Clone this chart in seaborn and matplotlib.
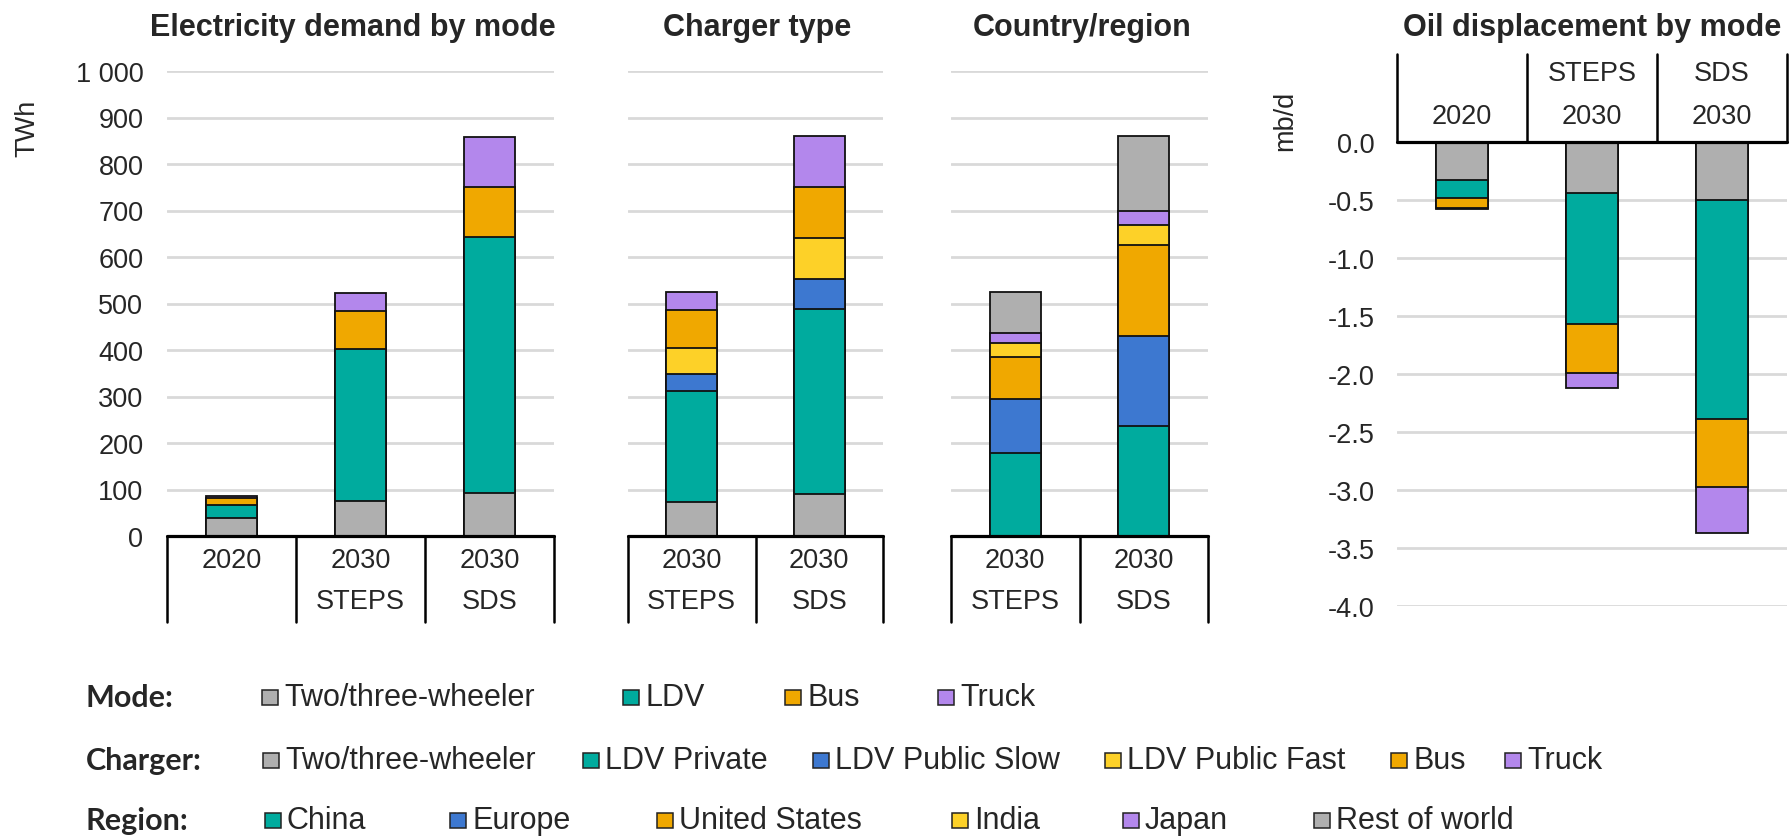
import matplotlib
matplotlib.use('Agg')
import matplotlib.pyplot as plt
from matplotlib.patches import Rectangle
import numpy as np
import seaborn as sns

# ---- data ----
elec_cats = ['2020', '2030 STEPS', '2030 SDS']
mode_labels = ['Two/three-wheeler', 'LDV', 'Bus', 'Truck']
elec_two_three = [39, 75, 92]
elec_ldv = [27, 327, 550]
elec_bus = [15, 81, 108]
elec_truck = [4, 40, 109]

charger_cats = ['2030 STEPS', '2030 SDS']
charger_labels = ['Two/three-wheeler', 'LDV Private', 'LDV Public Slow', 'LDV Public Fast', 'Bus', 'Truck']
chg_two_three = [73, 91]
chg_ldv_private = [238, 397]
chg_ldv_slow = [38, 64]
chg_ldv_fast = [56, 88]
chg_bus = [81, 111]
chg_truck = [39, 110]

region_cats = ['2030 STEPS', '2030 SDS']
region_labels = ['China', 'Europe', 'United States', 'India', 'Japan', 'Rest of world']
reg_china = [179, 236]
reg_europe = [115, 195]
reg_us = [92, 195]
reg_india = [30, 42]
reg_japan = [21, 32]
reg_rest = [88, 161]

oil_cats = ['2020', 'STEPS 2030', 'SDS 2030']
oil_two_three = [-0.33, -0.44, -0.50]
oil_ldv = [-0.15, -1.13, -1.89]
oil_bus = [-0.09, -0.42, -0.58]
oil_truck = [-0.01, -0.13, -0.40]

# ---- colours ----
GRAY = '#afafaf'
TEAL = '#00ab9e'
ORANGE = '#f0a800'
YELLOW = '#fdd128'
BLUE = '#3d78d0'
PURPLE = '#b387ec'
mode_colors = [GRAY, TEAL, ORANGE, PURPLE]
charger_colors = [GRAY, TEAL, BLUE, YELLOW, ORANGE, PURPLE]
region_colors = [TEAL, BLUE, ORANGE, YELLOW, PURPLE, GRAY]

sns.set_theme(style='white')
plt.rcParams['font.family'] = ['Liberation Sans', 'DejaVu Sans']

W, H = 1791, 837
fig = plt.figure(figsize=(W / 100, H / 100), dpi=100)


def fx(px):
    return px / W


def fy(py):
    return 1 - py / H


def make_ax(x0, x1, y0, y1):
    return fig.add_axes([fx(x0), fy(y1), fx(x1) - fx(x0), (y1 - y0) / H])


def stacked(ax, cats, series, colors):
    cum = np.cumsum(np.array(series, dtype=float), axis=0)
    # draw totals first, then each lower cumulative on top -> segment borders
    for vals, col in reversed(list(zip(cum, colors))):
        sns.barplot(x=cats, y=vals, color=col, saturation=1, width=0.4,
                    edgecolor='#111111', linewidth=1.3, errorbar=None, ax=ax, zorder=3)
    ax.set_xlim(-0.5, len(cats) - 0.5)
    ax.set_xlabel('')
    ax.set_ylabel('')
    ax.set_xticks([])
    for s in ax.spines.values():
        s.set_visible(False)
    ax.set_axisbelow(True)
    ax.yaxis.grid(True, color='#d9d9d9', lw=2.0)
    ax.xaxis.grid(False)
    ax.tick_params(axis='y', length=0)
    ax.axhline(0, color='black', lw=2.3, zorder=5, clip_on=False)


TICK_FS = 19.5


def bottom_table(ax, lines1, lines2, depth=0.185):
    tr = ax.get_xaxis_transform()
    n = len(lines1)
    for i in range(n + 1):
        ax.plot([i - 0.5, i - 0.5], [0, -depth], transform=tr, color='black',
                lw=1.8, clip_on=False, zorder=5)
    for i in range(n):
        ax.text(i, -0.052, lines1[i], transform=tr, ha='center', va='center', fontsize=TICK_FS)
        ax.text(i, -0.139, lines2[i], transform=tr, ha='center', va='center', fontsize=TICK_FS)


# ---- panel 1: electricity demand by mode ----
ax1 = make_ax(167, 554, 72, 537)
stacked(ax1, elec_cats, [elec_two_three, elec_ldv, elec_bus, elec_truck], mode_colors)
ax1.set_ylim(0, 1000)
ticks = list(range(0, 1001, 100))
ax1.set_yticks(ticks)
ax1.set_yticklabels([f'{t:,}'.replace(',', ' ') for t in ticks], fontsize=TICK_FS)
ax1.tick_params(axis='y', pad=17)
bottom_table(ax1, ['2020', '2030', '2030'], ['', 'STEPS', 'SDS'])
fig.text(fx(27), fy(128), 'TWh', rotation=90, ha='center', va='center', fontsize=TICK_FS)

# ---- panel 2: charger type ----
ax2 = make_ax(628, 883, 72, 537)
stacked(ax2, charger_cats, [chg_two_three, chg_ldv_private, chg_ldv_slow,
                            chg_ldv_fast, chg_bus, chg_truck], charger_colors)
ax2.set_ylim(0, 1000)
ax2.set_yticks(ticks)
ax2.set_yticklabels([])
bottom_table(ax2, ['2030', '2030'], ['STEPS', 'SDS'])

# ---- panel 3: country/region ----
ax3 = make_ax(951, 1208, 72, 537)
stacked(ax3, region_cats, [reg_china, reg_europe, reg_us, reg_india,
                           reg_japan, reg_rest], region_colors)
ax3.set_ylim(0, 1000)
ax3.set_yticks(ticks)
ax3.set_yticklabels([])
bottom_table(ax3, ['2030', '2030'], ['STEPS', 'SDS'])

# ---- panel 4: oil displacement ----
ax4 = make_ax(1397, 1787, 143, 607)
stacked(ax4, oil_cats, [oil_two_three, oil_ldv, oil_bus, oil_truck], mode_colors)
ax4.set_ylim(-4, 0)
oticks = np.arange(0, -4.01, -0.5)
ax4.set_yticks(oticks)
ax4.set_yticklabels(['0.0'] + [f'{t:.1f}' for t in oticks[1:]], fontsize=TICK_FS)
ax4.tick_params(axis='y', pad=16)
tr4 = ax4.get_xaxis_transform()
for i in range(4):
    ax4.plot([i - 0.5, i - 0.5], [1, 1.19], transform=tr4, color='black',
             lw=1.8, clip_on=False, zorder=5)
for i, (top, bot) in enumerate(zip(['', 'STEPS', 'SDS'], ['2020', '2030', '2030'])):
    ax4.text(i, 1.149, top, transform=tr4, ha='center', va='center', fontsize=TICK_FS)
    ax4.text(i, 1.055, bot, transform=tr4, ha='center', va='center', fontsize=TICK_FS)
fig.text(fx(1285), fy(121), 'mb/d', rotation=90, ha='center', va='center', fontsize=TICK_FS)

# ---- titles ----
TITLE_FS = 22
fig.text(fx(353), fy(28), 'Electricity demand by mode', ha='center', va='center',
         fontsize=TITLE_FS, fontweight='bold')
fig.text(fx(757), fy(28), 'Charger type', ha='center', va='center',
         fontsize=TITLE_FS, fontweight='bold')
fig.text(fx(1082), fy(28), 'Country/region', ha='center', va='center',
         fontsize=TITLE_FS, fontweight='bold')
fig.text(fx(1592), fy(28), 'Oil displacement by mode', ha='center', va='center',
         fontsize=TITLE_FS, fontweight='bold')

# ---- custom legend rows ----
LEG_FS = 22
rows = [
    ('Mode:', 698, mode_labels, mode_colors, [262, 623, 785, 938]),
    ('Charger:', 761, charger_labels, charger_colors, [263, 583, 813, 1105, 1391, 1505]),
    ('Region:', 821, region_labels, region_colors, [265, 450, 657, 952, 1123, 1314]),
]
for title, yc, labels, colors, xs in rows:
    fig.text(fx(86), fy(yc), title, ha='left', va='center', fontsize=22,
             fontweight='bold', family=['Lato', 'DejaVu Sans'])
    for lab, col, x0 in zip(labels, colors, xs):
        fig.add_artist(Rectangle((fx(x0), fy(yc + 7.5)), 16 / W, 15 / H,
                                 transform=fig.transFigure, facecolor=col,
                                 edgecolor='#222222', lw=1.1))
        fig.text(fx(x0 + 22), fy(yc), lab, ha='left', va='center', fontsize=LEG_FS)

fig.savefig('out.png', dpi=100)
